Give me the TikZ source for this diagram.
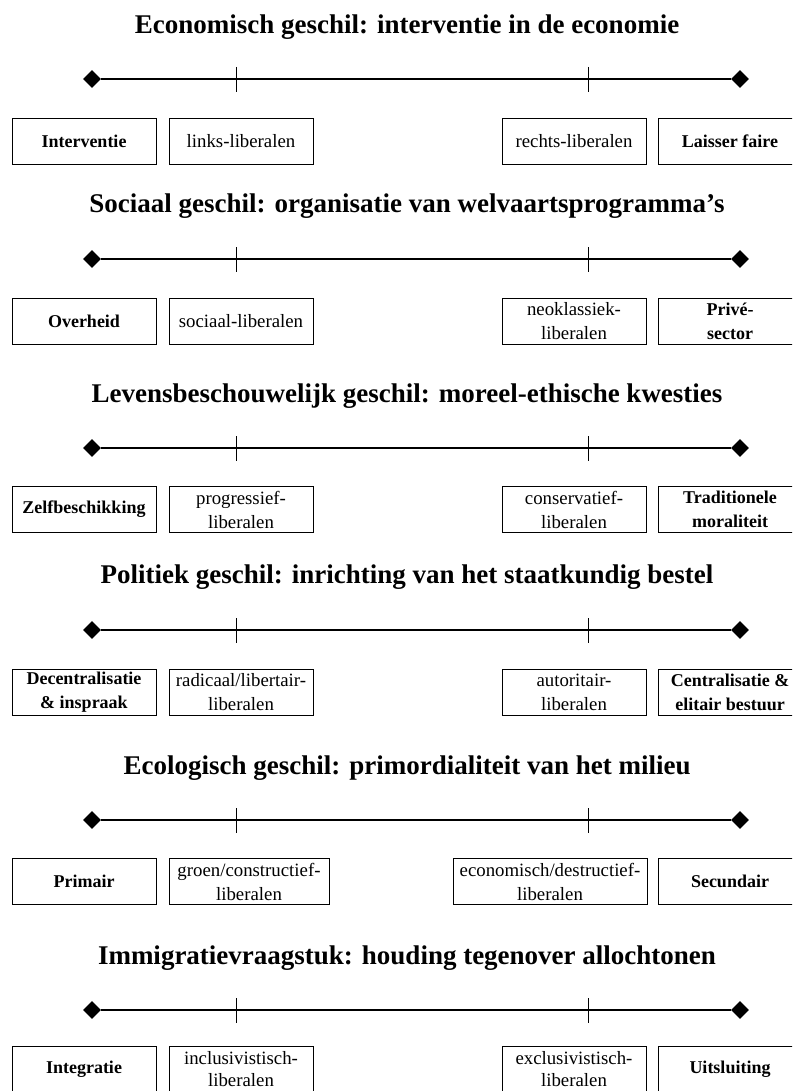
\documentclass[tikz,border=0pt]{standalone}
\usepackage{fontspec}
\setmainfont{Liberation Serif}
\usetikzlibrary{shapes.geometric}

\begin{document}
\begin{tikzpicture}[x=1pt, y=-1pt,
      every node/.style = {align=center},
      titel/.style = {font=\fontsize{27}{32}\selectfont\bfseries},
      vak/.style = {draw, line width=0.9pt, minimum width=144pt,
        minimum height=46pt, inner sep=1pt,
        font=\fontsize{18.8}{24}\selectfont},
      pool/.style = {vak, font=\fontsize{18}{24}\selectfont\bfseries},
      eind/.style = {diamond, fill, inner sep=0pt, minimum size=18pt},
      as/.style = {line width=2pt},
      streep/.style = {line width=0.8pt}]
  \useasboundingbox (0,0) rectangle (792,1091);
  \clip (0,0) rectangle (792,1091);

  % economisch
  \node[titel] (t1) at (407,27) {Economisch geschil: interventie in de economie};
  \node[eind] (l1) at (92,79) {};
  \node[eind] (r1) at (740,79) {};
  \draw[as] (l1) -- (r1);
  \draw[streep] (236,67) -- (236,92) (588,67) -- (588,92);
  \node[pool] (a1) at (84,141.5) {Interventie};
  \node[vak] (b1) at (241,141.5) {links-liberalen};
  \node[vak] (c1) at (574,141.5) {rechts-liberalen};
  \node[pool] (d1) at (730,141.5) {Laisser faire};

  % sociaal
  \node[titel] (t2) at (407,206) {Sociaal geschil: organisatie van welvaartsprogramma's};
  \node[eind] (l2) at (92,259) {};
  \node[eind] (r2) at (740,259) {};
  \draw[as] (l2) -- (r2);
  \draw[streep] (236,247) -- (236,272) (588,247) -- (588,272);
  \node[pool] (a2) at (84,321.5) {Overheid};
  \node[vak] (b2) at (241,321.5) {sociaal-liberalen};
  \node[vak] (c2) at (574,321.5) {neoklassiek-\\liberalen};
  \node[pool] (d2) at (730,321.5) {Privé-\\sector};

  % levensbeschouwelijk
  \node[titel] (t3) at (407,396) {Levensbeschouwelijk geschil: moreel-ethische kwesties};
  \node[eind] (l3) at (92,448) {};
  \node[eind] (r3) at (740,448) {};
  \draw[as] (l3) -- (r3);
  \draw[streep] (236,436) -- (236,461) (588,436) -- (588,461);
  \node[pool] (a3) at (84,509.5) {Zelfbeschikking};
  \node[vak] (b3) at (241,509.5) {progressief-\\liberalen};
  \node[vak] (c3) at (574,509.5) {conservatief-\\liberalen};
  \node[pool] (d3) at (730,509.5) {Traditionele\\moraliteit};

  % politiek
  \node[titel] (t4) at (407,577) {Politiek geschil: inrichting van het staatkundig bestel};
  \node[eind] (l4) at (92,630) {};
  \node[eind] (r4) at (740,630) {};
  \draw[as] (l4) -- (r4);
  \draw[streep] (236,618) -- (236,643) (588,618) -- (588,643);
  \node[pool] (a4) at (84,692) {Decentralisatie\\ \& inspraak};
  \node[vak] (b4) at (241,692) {radicaal/libertair-\\liberalen};
  \node[vak] (c4) at (574,692) {autoritair-\\liberalen};
  \node[pool] (d4) at (730,692) {Centralisatie \&\\elitair bestuur};

  % ecologisch
  \node[titel] (t5) at (407,768) {Ecologisch geschil: primordialiteit van het milieu};
  \node[eind] (l5) at (92,820) {};
  \node[eind] (r5) at (740,820) {};
  \draw[as] (l5) -- (r5);
  \draw[streep] (236,808) -- (236,833) (588,808) -- (588,833);
  \node[pool] (a5) at (84,881.5) {Primair};
  \node[vak, minimum width=160pt] (b5) at (249,881.5) {groen/constructief-\\liberalen};
  \node[vak, minimum width=194pt] (c5) at (550,881.5) {economisch/destructief-\\liberalen};
  \node[pool] (d5) at (730,881.5) {Secundair};

  % immigratie
  \node[titel] (t6) at (407,958) {Immigratievraagstuk: houding tegenover allochtonen};
  \node[eind] (l6) at (92,1010) {};
  \node[eind] (r6) at (740,1010) {};
  \draw[as] (l6) -- (r6);
  \draw[streep] (236,998) -- (236,1023) (588,998) -- (588,1023);
  \node[pool] (a6) at (84,1069.5) {Integratie};
  \node[vak, font=\fontsize{18.8}{22}\selectfont] (b6) at (241,1069.5) {inclusivistisch-\\liberalen};
  \node[vak, font=\fontsize{18.8}{22}\selectfont] (c6) at (574,1069.5) {exclusivistisch-\\liberalen};
  \node[pool] (d6) at (730,1069.5) {Uitsluiting};
\end{tikzpicture}
\end{document}
